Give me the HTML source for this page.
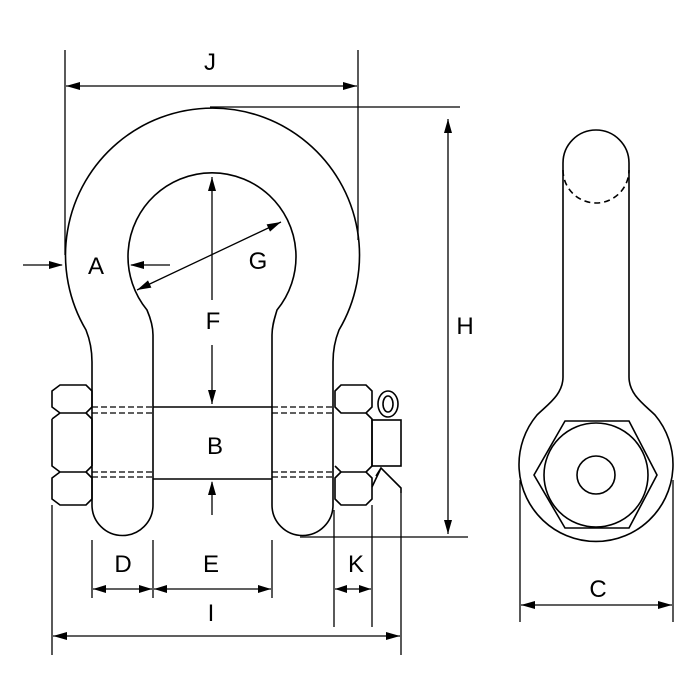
<!DOCTYPE html>
<html><head><style>body{margin:0;background:#fff}svg{display:block}text{font-family:"Liberation Sans",sans-serif;font-size:24px;fill:#000;text-anchor:middle}</style></head><body>
<svg width="700" height="700" viewBox="0 0 700 700" xmlns="http://www.w3.org/2000/svg">
<g fill="none" stroke="#000" stroke-width="1.6">
<path d="M92,362 C92,350 90,340 86,330 A147 147 0 1 1 339,330 C335,340 333,350 333,362 L333,505 A30.5 30.5 0 0 1 272,505 L272,335 C272,325 275,317 277,310 A84 84 0 1 0 147,310 C150,317 153,325 153,335 L153,505 A30.5 30.5 0 0 1 92,505 Z"/>
<path d="M153,407H272M153,479H272"/>
<path d="M92,407H153M92,413H153M92,472H153M92,477H153M272,407H333M272,413H333M272,472H333M272,477H333" stroke-dasharray="6,3" stroke-width="1.3"/>
<path d="M60,385H86L92,391V407L86,413H60L52,407V391Z M52,419L60,413M52,419V466L60,472H86L92,466M86,413L92,419V466 M60,472L52,478V499L60,505H86L92,499V478L86,472"/>
<path d="M341,385H366L372,391V407L366,413H341L335,407V391Z M366,413L372,419V466L366,472 M341,472L335,478V499L341,505H366L372,499V478L366,472H341L335,466"/>
<rect x="372" y="420" width="29" height="46"/>
<ellipse cx="388" cy="404" rx="10" ry="13"/><ellipse cx="388" cy="404" rx="5" ry="8"/>
<path d="M372,487L381,468L401,488V493 M381,468L376,476"/>
<path d="M563,163 A33 33 0 0 1 629,163 V377 C629,395 645,405 655,415 A77 77 0 1 1 537,415 C547,405 563,395 563,377 Z"/>
<path d="M563,170 A33 33 0 0 0 629,170" stroke-dasharray="6,4"/>
<path d="M565,421H629L657,475L629,528H565L534,475Z"/>
<circle cx="596" cy="475" r="52"/><circle cx="596" cy="475" r="19"/>
<g stroke-width="1.3">
<path d="M65,50V255M358,50V240M210,107H460M300,537H468M52,505V655M401,493V655M92,540V598M153,540V598M272,540V598M334,510V627M372,505V627M520,480V622M673,480V622"/>
<path d="M66,86H357M448,119V534M53,636H400M93,589H152M154,589H271M335,589H371M521,605H672"/>
<path d="M23,265H62M170,265H131M212,300V177M212,345V404M212,515V482M137,290L281,222"/>
</g></g>
<path fill="#000" d="M66,86L80,82L80,90Z M357,86L343,82L343,90Z M448,119L444,133L452,133Z M448,534L444,520L452,520Z M53,636L67,632L67,640Z M400,636L386,632L386,640Z M93,589L106,585L106,593Z M152,589L139,585L139,593Z M154,589L167,585L167,593Z M271,589L258,585L258,593Z M335,589L347,585L347,593Z M371,589L359,585L359,593Z M521,605L535,601L535,609Z M672,605L658,601L658,609Z M63,265L49,261L49,269Z M130,265L144,261L144,269Z M212,177L208,191L216,191Z M212,404L208,390L216,390Z M212,481L208,495L216,495Z M281,222L270,231.6L266.6,224.4Z M137,290L151.4,287.6L148,280.4Z"/>
<text x="210" y="70">J</text><text x="96" y="274">A</text><text x="258" y="269">G</text><text x="213" y="329">F</text><text x="215" y="454">B</text><text x="465" y="334">H</text><text x="123" y="572">D</text><text x="211" y="572">E</text><text x="356" y="572">K</text><text x="211" y="621">I</text><text x="598" y="597">C</text>
</svg></body></html>
